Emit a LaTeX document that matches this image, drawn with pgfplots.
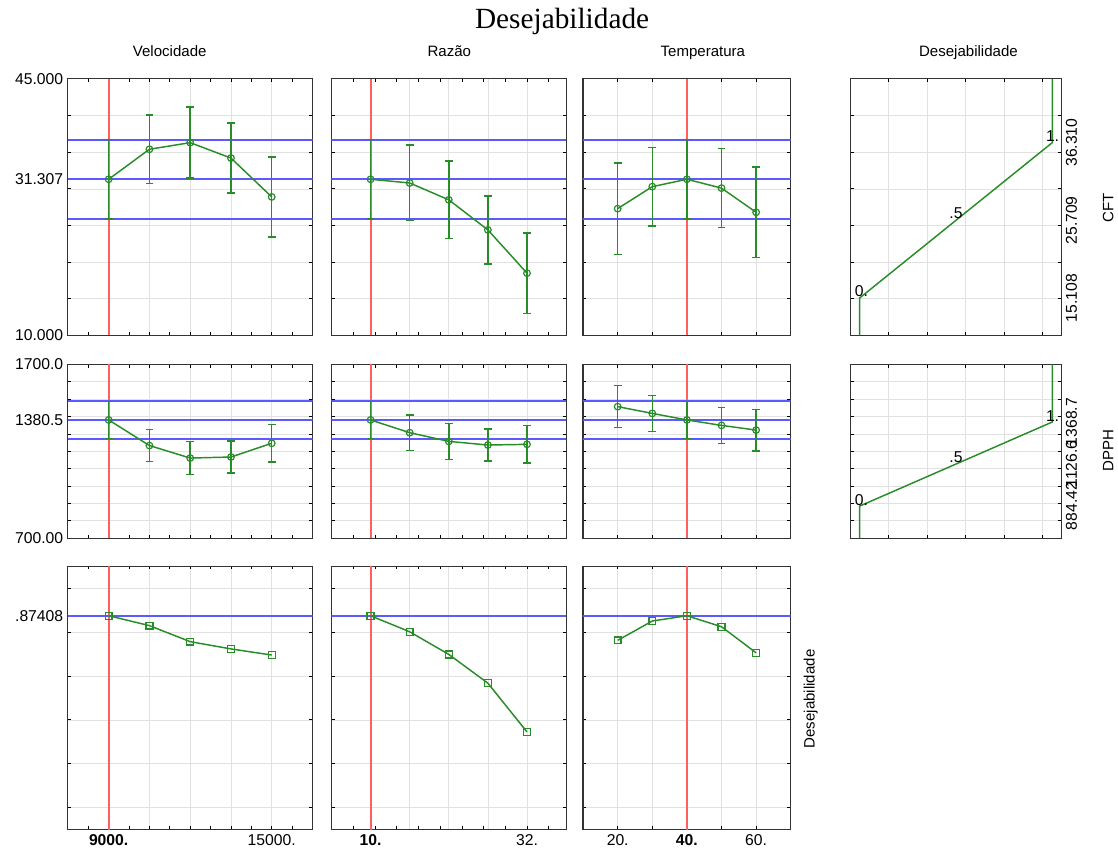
\documentclass[border=0pt]{standalone}
\usepackage{fontspec}
\setmainfont{Liberation Sans}
\newfontfamily\seriffont{Liberation Serif}
\usepackage{pgfplots}
\pgfplotsset{compat=1.18}

\definecolor{cgreen}{RGB}{40,140,40}
\definecolor{cblue}{RGB}{90,90,255}
\definecolor{cred}{RGB}{255,95,95}
\definecolor{cgrid}{RGB}{225,225,225}

\newcommand{\tickfont}{\fontsize{11.8}{13}\selectfont}
\newcommand{\labfont}{\fontsize{11.3}{13}\selectfont}

\pgfplotsset{
  panel/.style={
    scale only axis, anchor=south west,
    axis line style={black!80, line width=0.9pt},
    tick align=inside, xtick pos=both, ytick pos=both,
    xticklabel pos=lower, yticklabel pos=left,
    scaled x ticks=false, scaled y ticks=false,
    major tick length=0pt, minor tick length=2.5pt,
    minor tick style={black, line width=0.6pt},
    xmajorgrids=true, yminorgrids=true,
    major grid style={cgrid, line width=0.5pt},
    minor grid style={cgrid, line width=0.5pt},
    tick label style={font=\tickfont},
    xticklabels={}, yticklabels={},
  },
  % columns
  c1/.style={at={(51pt,#1)}, width=183.75pt, xmin=7500, xmax=16500,
    xtick={9000,10500,12000,13500,15000},
    minor xtick={8250,9000,...,15750}},
  c2/.style={at={(249pt,#1)}, width=176.25pt, xmin=4.5, xmax=37.5,
    xtick={10,15.5,21,26.5,32},
    minor xtick={7.6,10.65,13.7,16.75,19.8,22.85,25.9,28.95,32,35.05}},
  c3/.style={at={(438pt,#1)}, width=156pt, xmin=10, xmax=70,
    xtick={20,30,40,50,60}, minor xtick={20,30,40,50,60}},
  c4/.style={at={(639pt,#1)}, width=158.25pt, xmin=-0.0466, xmax=1.0466,
    xtick={0.15,0.35,0.55,0.75,0.95}, minor xtick={0.15,0.35,0.55,0.75,0.95},
    yticklabel pos=right, yticklabel style={rotate=90, anchor=north}},
  % rows
  r1/.style={height=192.75pt, ymin=10, ymax=45,
    ytick={10,31.307,45}, minor ytick={15,20,...,40}},
  r2/.style={height=130.5pt, ymin=700, ymax=1700,
    ytick={700,1380.5,1700}, minor ytick={800,900,...,1600}},
  r3/.style={height=198pt, ymin=-0.1, ymax=1.1,
    ytick={0.87408}, minor ytick={0,0.2,...,1}},
  dat/.style={cgreen, line width=1.1pt, mark=o, mark size=2.5pt,
    mark options={solid, line width=0.9pt},
    error bars/y dir=both, error bars/y explicit,
    error bars/error bar style={cgreen, line width=1.1pt},
    error bars/error mark options={cgreen, rotate=90, mark size=2.9pt, line width=1.1pt}},
  des/.style={cgreen, line width=1.1pt, mark=square, mark size=2.6pt,
    mark options={solid, line width=1pt}},
  redl/.style={cred, line width=1.5pt, forget plot},
  bluel/.style={cblue, line width=1.5pt, forget plot},
  desl/.style={cgreen, line width=1.1pt},
}

\begin{document}
\begin{tikzpicture}
\path (0,0) rectangle (838.5pt,-642pt);

% titles
\node[anchor=base, font=\seriffont\fontsize{22}{24}\selectfont] at (422.25pt,-21.75pt) {Desejabilidade};
\node[anchor=base, font=\labfont] at (127.5pt,-42.5pt) {Velocidade};
\node[anchor=base, font=\labfont] at (337.5pt,-42.5pt) {Razão};
\node[anchor=base, font=\labfont] at (528pt,-42.5pt) {Temperatura};
\node[anchor=base, font=\labfont] at (727.5pt,-42.5pt) {Desejabilidade};
\node[rotate=90, font=\labfont] at (832.5pt,-156pt) {CFT};
\node[rotate=90, font=\labfont] at (832.5pt,-338.25pt) {DPPH};
\node[rotate=90, font=\labfont] at (609pt,-525pt) {Desejabilidade};

% ---------- row 1: CFT ----------
\begin{axis}[panel, c1=-252pt, r1, yticklabels={10.000,31.307,45.000}]
\addplot[redl] coordinates {(9000,10) (9000,45)};
\addplot[bluel] coordinates {(7500,36.7) (16500,36.7)};
\addplot[bluel] coordinates {(7500,31.307) (16500,31.307)};
\addplot[bluel] coordinates {(7500,25.9) (16500,25.9)};
\addplot[dat] coordinates {
  (9000,31.307) +- (0,5.4)
  (10500,35.4) +- (0,4.7)
  (12000,36.3) +- (0,4.85)
  (13500,34.2) +- (0,4.75)
  (15000,28.9) +- (0,5.45)
};
\end{axis}

\begin{axis}[panel, c2=-252pt, r1]
\addplot[redl] coordinates {(10,10) (10,45)};
\addplot[bluel] coordinates {(4.5,36.7) (37.5,36.7)};
\addplot[bluel] coordinates {(4.5,31.307) (37.5,31.307)};
\addplot[bluel] coordinates {(4.5,25.9) (37.5,25.9)};
\addplot[dat] coordinates {
  (10,31.307) +- (0,5.4)
  (15.5,30.8) +- (0,5.15)
  (21,28.5) +- (0,5.3)
  (26.5,24.4) +- (0,4.65)
  (32,18.5) +- (0,5.5)
};
\end{axis}

\begin{axis}[panel, c3=-252pt, r1]
\addplot[redl] coordinates {(40,10) (40,45)};
\addplot[bluel] coordinates {(10,36.7) (70,36.7)};
\addplot[bluel] coordinates {(10,31.307) (70,31.307)};
\addplot[bluel] coordinates {(10,25.9) (70,25.9)};
\addplot[dat] coordinates {
  (20,27.3) +- (0,6.25)
  (30,30.3) +- (0,5.35)
  (40,31.307) +- (0,5.4)
  (50,30.1) +- (0,5.4)
  (60,26.8) +- (0,6.2)
};
\end{axis}

\begin{axis}[panel, c4=-252pt, r1, ytick={15.108,25.709,36.310},
  yticklabels={15.108,25.709,36.310}]
\addplot[desl] coordinates {(0,10) (0,15.108) (1,36.310) (1,45)};
\node[anchor=south west, inner sep=0.5pt, font=\tickfont] at (axis cs:-0.03,15.108) {0.};
\node[anchor=south, inner sep=1pt, font=\tickfont] at (axis cs:0.5,25.709) {.5};
\node[anchor=south east, inner sep=0.5pt, font=\tickfont] at (axis cs:1.04,36.310) {1.};
\end{axis}

% ---------- row 2: DPPH ----------
\begin{axis}[panel, c1=-404.25pt, r2, yticklabels={700.00,1380.5,1700.0}]
\addplot[redl] coordinates {(9000,700) (9000,1700)};
\addplot[bluel] coordinates {(7500,1487.5) (16500,1487.5)};
\addplot[bluel] coordinates {(7500,1380.5) (16500,1380.5)};
\addplot[bluel] coordinates {(7500,1273.5) (16500,1273.5)};
\addplot[dat] coordinates {
  (9000,1380.5) +- (0,107)
  (10500,1233) +- (0,92)
  (12000,1161) +- (0,96)
  (13500,1167) +- (0,93)
  (15000,1246) +- (0,107)
};
\end{axis}

\begin{axis}[panel, c2=-404.25pt, r2]
\addplot[redl] coordinates {(10,700) (10,1700)};
\addplot[bluel] coordinates {(4.5,1487.5) (37.5,1487.5)};
\addplot[bluel] coordinates {(4.5,1380.5) (37.5,1380.5)};
\addplot[bluel] coordinates {(4.5,1273.5) (37.5,1273.5)};
\addplot[dat] coordinates {
  (10,1380.5) +- (0,107)
  (15.5,1307) +- (0,101)
  (21,1257) +- (0,104)
  (26.5,1236) +- (0,92)
  (32,1240) +- (0,107)
};
\end{axis}

\begin{axis}[panel, c3=-404.25pt, r2]
\addplot[redl] coordinates {(40,700) (40,1700)};
\addplot[bluel] coordinates {(10,1487.5) (70,1487.5)};
\addplot[bluel] coordinates {(10,1380.5) (70,1380.5)};
\addplot[bluel] coordinates {(10,1273.5) (70,1273.5)};
\addplot[dat] coordinates {
  (20,1457) +- (0,121)
  (30,1418) +- (0,104)
  (40,1380.5) +- (0,107)
  (50,1349) +- (0,104)
  (60,1322) +- (0,120)
};
\end{axis}

\begin{axis}[panel, c4=-404.25pt, r2, ytick={884.42,1126.6,1368.7},
  yticklabels={884.42,1126.6,1368.7}]
\addplot[desl] coordinates {(0,700) (0,884.42) (1,1368.7) (1,1700)};
\node[anchor=south west, inner sep=0.5pt, font=\tickfont] at (axis cs:-0.03,884.42) {0.};
\node[anchor=south, inner sep=1pt, font=\tickfont] at (axis cs:0.5,1126.6) {.5};
\node[anchor=south east, inner sep=0.5pt, font=\tickfont] at (axis cs:1.04,1368.7) {1.};
\end{axis}

% ---------- row 3: desirability ----------
\begin{axis}[panel, c1=-623.25pt, r3, yticklabels={.87408},
  xticklabels={\textbf{9000.},,,,15000.}]
\addplot[redl] coordinates {(9000,-0.1) (9000,1.1)};
\addplot[bluel] coordinates {(7500,0.87408) (16500,0.87408)};
\addplot[des] coordinates {
  (9000,0.874) (10500,0.829) (12000,0.756) (13500,0.723) (15000,0.695)
};
\end{axis}

\begin{axis}[panel, c2=-623.25pt, r3, xticklabels={\textbf{10.},,,,32.}]
\addplot[redl] coordinates {(10,-0.1) (10,1.1)};
\addplot[bluel] coordinates {(4.5,0.87408) (37.5,0.87408)};
\addplot[des] coordinates {
  (10,0.874) (15.5,0.801) (21,0.698) (26.5,0.567) (32,0.345)
};
\end{axis}

\begin{axis}[panel, c3=-623.25pt, r3, xticklabels={20.,,\textbf{40.},,60.}]
\addplot[redl] coordinates {(40,-0.1) (40,1.1)};
\addplot[bluel] coordinates {(10,0.87408) (70,0.87408)};
\addplot[des] coordinates {
  (20,0.762) (30,0.850) (40,0.874) (50,0.824) (60,0.705)
};
\end{axis}

\end{tikzpicture}
\end{document}
